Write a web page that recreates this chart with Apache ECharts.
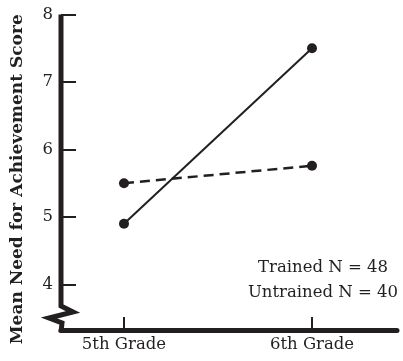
<!DOCTYPE html>
<html><head><meta charset="utf-8">
<script src="https://cdn.jsdelivr.net/npm/echarts@6/dist/echarts.min.js"></script>
<style>html,body{margin:0;padding:0;background:#fff}#chart{width:403px;height:361px}</style>
</head><body><div id="chart"></div>
<script>
// Grades on the horizontal axis and the two group means
const grades = ['5th Grade', '6th Grade'];
const trained = [4.9, 7.5];
const untrained = [5.5, 5.76];
const yTicks = [4, 5, 6, 7, 8];
const notes = ['Trained N = 48', 'Untrained N = 40'];

const ink = '#231f20';
const serif = '"DejaVu Serif", serif';
const yMin = 3.326, yMax = 8;
const xMin = -0.335, xMax = 1.452;
const gradeIdx = grades.map((_, i) => i);

const chart = echarts.init(document.getElementById('chart'), null, { renderer: 'canvas' });
chart.setOption({
  animation: false,
  grid: { left: 61, right: 6, top: 14.5, bottom: 31, containLabel: false, outerBoundsMode: 'none' },
  title: {
    text: notes.join('\n'), left: 318, top: 250, textAlign: 'center',
    textStyle: { fontFamily: serif, fontSize: 16.5, fontWeight: 'normal', color: ink, lineHeight: 25 }
  },
  xAxis: {
    type: 'value', min: xMin, max: xMax, splitLine: { show: false },
    axisLine: { show: true, onZero: false, lineStyle: { color: ink, width: 5 } },
    axisTick: { show: true, inside: true, length: 13, customValues: gradeIdx, lineStyle: { color: ink, width: 2 } },
    axisLabel: { customValues: gradeIdx, formatter: v => grades[v], fontFamily: serif, fontSize: 16.5, color: ink, margin: 6 }
  },
  yAxis: {
    type: 'value', min: yMin, max: yMax, splitLine: { show: false },
    name: 'Mean Need for Achievement Score', nameLocation: 'middle', nameGap: 35,
    nameTextStyle: { fontFamily: serif, fontSize: 17, fontWeight: 'bold', color: ink, padding: [0, 14, 0, 0] },
    axisLine: { show: false, onZero: false },
    axisTick: { show: true, inside: true, length: 15, customValues: yTicks, lineStyle: { color: ink, width: 2 } },
    axisLabel: { customValues: yTicks, showMaxLabel: true, showMinLabel: true, fontFamily: serif, fontSize: 16.5, color: ink, margin: 8 }
  },
  series: [
    {
      name: 'Trained', type: 'line', data: gradeIdx.map(i => [i, trained[i]]),
      symbol: 'circle', symbolSize: 10, itemStyle: { color: ink },
      lineStyle: { color: ink, width: 2 }
    },
    {
      name: 'Untrained', type: 'line', data: gradeIdx.map(i => [i, untrained[i]]),
      symbol: 'circle', symbolSize: 10, itemStyle: { color: ink },
      lineStyle: { color: ink, width: 2.5, type: [10, 6] }
    }
  ]
});

// Vertical axis line with a break mark near the bottom
const axisTopY = chart.convertToPixel({ yAxisIndex: 0 }, yMax);
const axisBottomY = chart.convertToPixel({ yAxisIndex: 0 }, yMin);
const axisX = chart.convertToPixel({ xAxisIndex: 0 }, xMin);
chart.setOption({
  graphic: [{
    type: 'polyline', silent: true,
    shape: { points: [
      [axisX, axisTopY], [axisX, axisBottomY - 24], [axisX + 12, axisBottomY - 18],
      [axisX - 12, axisBottomY - 12], [axisX + 1, axisBottomY - 7], [axisX, axisBottomY + 2.5]
    ] },
    style: { stroke: ink, lineWidth: 5, fill: null, lineJoin: 'miter' }
  }]
});
</script></body></html>
